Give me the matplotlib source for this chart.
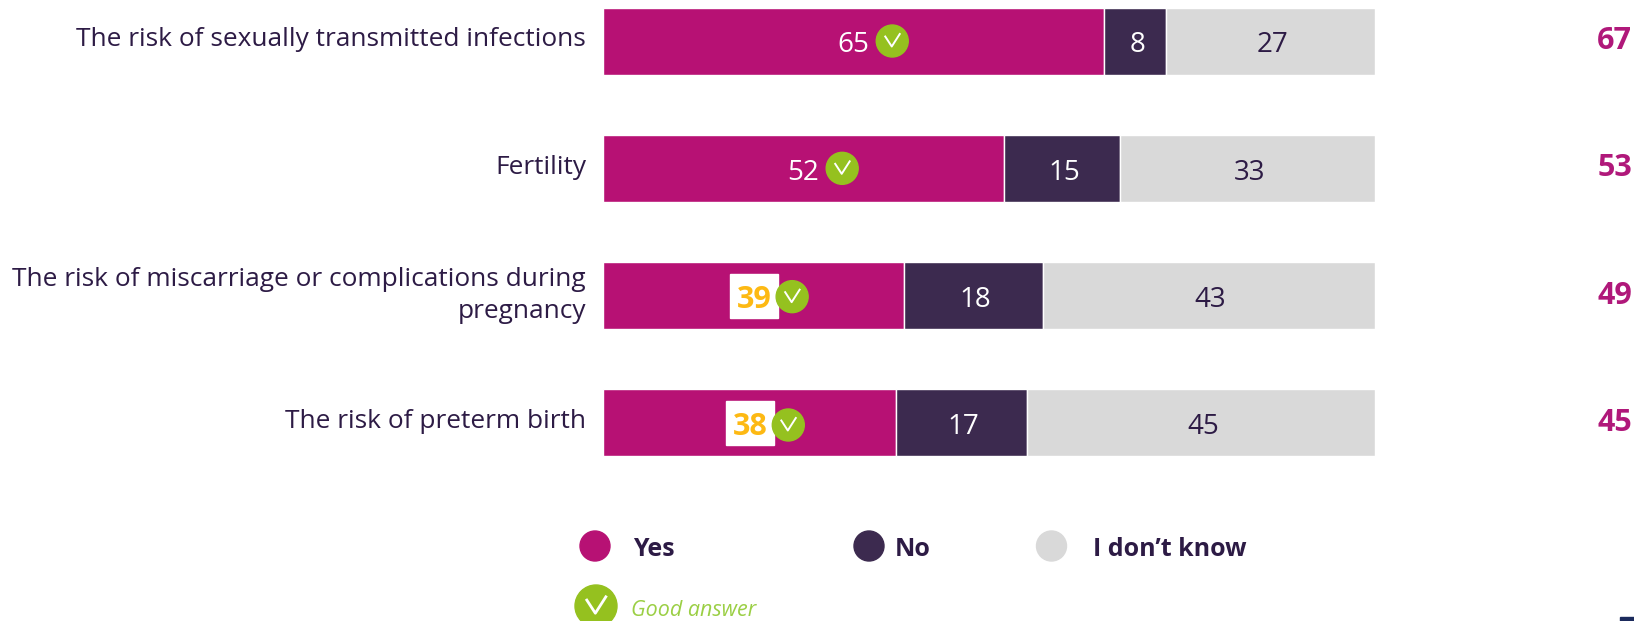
import matplotlib
matplotlib.use("Agg")
import matplotlib.pyplot as plt
from matplotlib.patches import Circle, Rectangle
from matplotlib.transforms import Affine2D

categories = ["The risk of sexually transmitted infections", "Fertility",
              "The risk of miscarriage or complications during\npregnancy", "The risk of preterm birth"]
yes_values = [65, 52, 39, 38]
no_values = [8, 15, 18, 17]
dk_values = [27, 33, 43, 45]
totals = [67, 53, 49, 45]
highlighted = [False, False, True, True]
legend_labels = ["Yes", "No", "I don\u2019t know"]
good_label = "Good answer"

W, H = 1634, 621
MAGENTA, DARK, GREY, GREEN = "#B71174", "#3C2A4F", "#D9D9D9", "#95C11F"
TEXT = "#2D1B45"
AMBER = "#FDB913"
plt.rcParams["font.family"] = ["Open Sans", "DejaVu Sans"]

fig = plt.figure(figsize=(W / 100, H / 100), dpi=100, facecolor="white")
ax = fig.add_axes([602.8 / W, 0, 771.7 / W, 1])
ax.axis("off")
ax.set_xlim(0, 100)
step = 127.33
ax.set_ylim((H - 41) / step, -41 / step)

px = Affine2D().scale(1, -1).translate(0, H)   # overlay positions in reference pixels
px_per_unit = 7.7
to_pts = 72 / 100

ys = list(range(len(categories)))
left = [0] * len(ys)
for vals, col, tc, dx in [(yes_values, MAGENTA, "white", 0), (no_values, DARK, "white", 2), (dk_values, GREY, TEXT, 2)]:
    ax.barh(ys, vals, left=left, height=67 / step, color=col, edgecolor="white", linewidth=1.0)
    for y, v, l in zip(ys, vals, left):
        if not (col == MAGENTA and highlighted[y]):
            ax.annotate(str(v), (l + v / 2, y), xytext=(dx * to_pts, -1 * to_pts), textcoords="offset points",
                        color=tc, fontsize=20, ha="center", va="center_baseline")
    left = [a + b for a, b in zip(left, vals)]


def badge(cx, cy, r, lw):
    fig.add_artist(Circle((cx, cy), r, transform=px, color=GREEN, zorder=5))
    k = r / 16
    fig.add_artist(plt.Line2D([cx - 7 * k, cx - 0.5 * k, cx + 7.5 * k], [cy - 4.5 * k, cy + 5.5 * k, cy - 7 * k],
                              transform=px, color="white", lw=lw, zorder=6))


for y, v, hl, dy in zip(ys, yes_values, highlighted, [0, 0, 1, 2]):
    x_px, y_px = 604 + v / 2 * px_per_unit, 41 + y * step
    if hl:
        fig.add_artist(Rectangle((x_px - 24, y_px - 22), 48, 44, transform=px, color="white", zorder=4))
        fig.text(x_px / W, 1 - (y_px + 1) / H, str(v), color=AMBER, fontsize=22, fontweight="bold",
                 ha="center", va="center_baseline", zorder=5)
    badge(x_px + 38, y_px + dy, 16, 1.4)

label_y = [40, 168, 295.5, 422]
for text, ly in zip(categories, label_y):
    fig.text(586 / W, 1 - ly / H, text, color=TEXT, fontsize=18.9, ha="right", va="center", linespacing=1.36)

for t, ly in zip(totals, [41, 168, 296, 423]):
    fig.text(1632 / W, 1 - ly / H, str(t), color="#B0187A", fontsize=22, fontweight="bold", ha="right", va="center")

for lab, col, cx, tx in zip(legend_labels, [MAGENTA, DARK, GREY], [595, 869, 1051.5], [633, 895, 1093]):
    fig.add_artist(Circle((cx, 546), 15, transform=px, color=col))
    fig.text(tx / W, 1 - 549 / H, lab, color=TEXT, fontsize=18, fontweight="bold", ha="left", va="center")

badge(596, 606, 21, 2.0)
fig.text(631 / W, 1 - 610 / H, good_label, color="#9BCF45", fontsize=15.5, fontstyle="italic", ha="left", va="center")
fig.add_artist(Rectangle((1620, 617), 14, 4, transform=px, color="#1B2A5C"))

fig.savefig("out.png", dpi=100)
